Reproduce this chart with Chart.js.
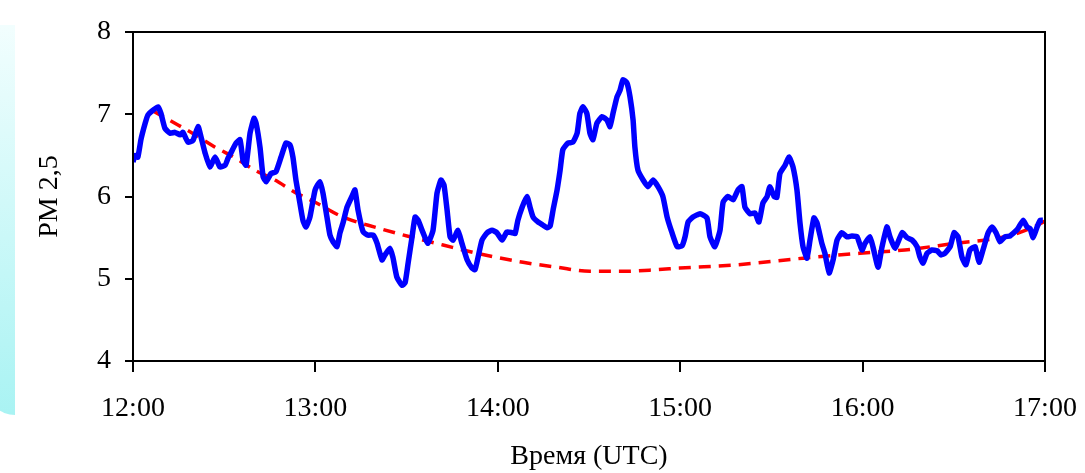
<!DOCTYPE html>
<html>
<head>
<meta charset="utf-8">
<script src="https://cdn.jsdelivr.net/npm/chart.js@4"></script>
<style>
  html, body { margin: 0; padding: 0; background: #fff; }
  #wrap { position: relative; width: 1085px; height: 473px; overflow: hidden; }
  #deco { position: absolute; left: -40px; top: 25px; width: 55px; height: 390px;
          background: linear-gradient(#f2fefe, #a9f3f3);
          border-bottom-left-radius: 60px 120px; z-index: 0; }
  #chart { position: absolute; left: 0; top: 0; z-index: 1; }
</style>
</head>
<body>
<div id="wrap">
  <div id="deco"></div>
  <canvas id="chart" width="1085" height="473"></canvas>
</div>
<script>
// minutes after 12:00 UTC
const pmTimes = [0, 0.7, 1.6, 2.6, 4.0, 4.9, 6.6, 8.2, 9.2, 10.5, 12.2, 13.8, 15.5, 16.4, 18.1, 19.7, 21.4, 22.4, 23.7, 25.3, 27.0, 28.6, 30.3, 31.3, 32.2, 33.9, 35.2, 36.2, 37.2, 38.5, 39.8, 40.5, 41.8, 42.8, 43.8, 45.4, 47.0, 48.7, 50.3, 51.6, 52.6, 53.6, 54.9, 55.9, 56.9,
  58.2, 59.9, 61.5, 62.5, 63.8, 64.8, 65.8, 67.1, 68.1, 69.1, 70.4, 72.0, 73.0, 74.0, 75.7, 77.3, 79.0, 80.3, 81.9, 82.9, 84.5, 85.5, 86.8, 88.5, 89.5, 90.5, 91.8, 92.8, 93.8, 95.4, 97.0, 98.7, 100.0, 101.3, 102.3, 103.3, 104.3, 105.3, 106.9, 108.2, 109.9, 111.5, 112.5, 113.5, 114.8, 116.5, 118.1, 119.7,
  121.4, 123.0, 124.7, 125.7, 126.6, 128.0, 129.6, 130.6, 131.6, 133.2, 134.9, 136.2, 137.2, 138.2, 139.5, 140.5, 141.4, 143.1, 144.7, 146.1, 147.0, 148.0, 149.3, 150.3, 151.3, 152.6, 154.3, 155.9, 156.9, 157.9, 159.2, 160.2, 161.2, 162.5, 163.5, 164.5, 165.1, 166.1, 167.8, 169.4, 171.1, 172.7, 174.3, 175.7, 177.3,
  179.0, 180.6, 181.6, 182.6, 184.2, 186.5, 188.8, 189.8, 191.4, 193.1, 194.1, 195.7, 197.4, 199.0, 200.3, 201.3, 203.0, 204.6, 205.9, 207.2, 208.6, 209.5, 210.9, 211.8, 212.8, 214.5, 215.8, 217.1, 218.4, 219.4, 220.4, 221.7, 222.7, 224.0, 225.0, 226.6, 227.6, 229.0, 230.3, 231.6, 233.2, 234.9, 236.5,
  238.2, 239.8, 240.8, 242.4, 243.4, 245.1, 246.4, 248.0, 249.0, 250.7, 253.0, 254.6, 256.3, 257.9, 258.9, 259.9, 261.2, 262.8, 264.5, 265.8, 267.1, 268.8, 270.1, 271.4, 272.7, 274.0, 275.3, 277.0, 278.3, 279.6, 281.3, 282.6, 283.9, 285.2, 286.8, 288.5, 290.1, 291.1, 292.8, 294.1, 295.1, 296.1, 297.4, 298.4, 299.3];
const pmValues = [6.42, 6.50, 6.48, 6.69, 6.89, 6.99, 7.05, 7.09, 7.01, 6.83, 6.77, 6.78, 6.75, 6.78, 6.66, 6.68, 6.85, 6.72, 6.53, 6.36, 6.48, 6.36, 6.38, 6.47, 6.53, 6.65, 6.69, 6.44, 6.38, 6.77, 6.95, 6.89, 6.59, 6.24, 6.18, 6.28, 6.30, 6.48, 6.65, 6.63, 6.48, 6.20, 5.92, 5.71, 5.63,
  5.75, 6.08, 6.18, 6.04, 5.75, 5.53, 5.45, 5.39, 5.56, 5.68, 5.87, 6.00, 6.08, 5.84, 5.57, 5.53, 5.53, 5.43, 5.23, 5.29, 5.37, 5.26, 5.02, 4.92, 4.95, 5.19, 5.51, 5.75, 5.71, 5.56, 5.43, 5.59, 6.04, 6.20, 6.14, 5.84, 5.51, 5.47, 5.59, 5.43, 5.23, 5.13, 5.11, 5.26, 5.47, 5.56, 5.59, 5.56,
  5.47, 5.57, 5.56, 5.55, 5.71, 5.87, 6.00, 5.87, 5.75, 5.69, 5.65, 5.62, 5.64, 5.84, 6.08, 6.32, 6.57, 6.65, 6.66, 6.77, 7.01, 7.09, 7.01, 6.77, 6.69, 6.89, 6.97, 6.93, 6.85, 7.01, 7.21, 7.29, 7.42, 7.38, 7.21, 6.93, 6.60, 6.32, 6.20, 6.12, 6.20, 6.12, 6.00, 5.75, 5.56,
  5.39, 5.40, 5.51, 5.69, 5.75, 5.79, 5.74, 5.51, 5.39, 5.59, 5.93, 6.00, 5.96, 6.08, 6.12, 5.87, 5.79, 5.80, 5.69, 5.92, 6.00, 6.12, 6.00, 5.99, 6.28, 6.38, 6.48, 6.36, 6.08, 5.68, 5.39, 5.25, 5.47, 5.74, 5.68, 5.43, 5.31, 5.07, 5.23, 5.47, 5.56, 5.51, 5.52,
  5.51, 5.35, 5.43, 5.51, 5.39, 5.14, 5.39, 5.63, 5.51, 5.37, 5.56, 5.50, 5.47, 5.39, 5.26, 5.19, 5.31, 5.35, 5.34, 5.29, 5.31, 5.39, 5.56, 5.51, 5.26, 5.17, 5.35, 5.39, 5.20, 5.35, 5.56, 5.63, 5.56, 5.45, 5.51, 5.52, 5.57, 5.61, 5.71, 5.63, 5.61, 5.50, 5.63, 5.71, 5.71];

// smooth trend (red dashed)
const trendTimes = [6.6, 14.8, 20.4, 27.0, 33.6, 40.1, 46.7, 53.3, 59.9, 69.1, 80.3, 91.1, 102.0, 113.2, 128.3, 139.5, 150.3, 161.2, 172.4, 179.9, 198.7, 220.4, 239.1, 253.9, 270.4, 286.8, 295.7, 300];
const trendValues = [7.04, 6.87, 6.75, 6.60, 6.47, 6.32, 6.20, 6.05, 5.93, 5.75, 5.62, 5.51, 5.41, 5.31, 5.20, 5.14, 5.09, 5.09, 5.11, 5.13, 5.17, 5.25, 5.31, 5.35, 5.43, 5.51, 5.62, 5.70];

const xTicks = ['12:00', '13:00', '14:00', '15:00', '16:00', '17:00'];
const yTicks = [4, 5, 6, 7, 8];

const font = { family: 'Liberation Serif', size: 28 };

const frame = {
  id: 'frame',
  afterDraw(chart) {
    const { ctx, chartArea: a } = chart;
    ctx.save();
    ctx.strokeStyle = '#000';
    ctx.lineWidth = 2;
    ctx.strokeRect(a.left, a.top, a.right - a.left, a.bottom - a.top);
    ctx.restore();
  }
};

new Chart(document.getElementById('chart'), {
  type: 'line',
  data: {
    datasets: [
      {
        label: 'PM 2,5',
        data: pmTimes.map((t, i) => ({ x: t, y: pmValues[i] })),
        borderColor: '#0000ff',
        borderWidth: 5.5,
        pointRadius: 0,
        tension: 0.15
      },
      {
        label: 'trend',
        data: trendTimes.map((t, i) => ({ x: t, y: trendValues[i] })),
        borderColor: '#ff0000',
        borderWidth: 3.5,
        borderDash: [12, 8],
        pointRadius: 0,
        cubicInterpolationMode: 'monotone'
      }
    ]
  },
  options: {
    responsive: false,
    animation: false,
    layout: { autoPadding: false, padding: { top: 32, right: 40, left: 0, bottom: 0 } },
    plugins: { legend: { display: false }, tooltip: { enabled: false } },
    scales: {
      x: {
        type: 'linear',
        min: 0, max: 300,
        afterBuildTicks: s => { s.ticks = xTicks.map((_, i) => ({ value: i * 60 })); },
        afterFit: s => { s.height = 112; s.paddingLeft = 0; s.paddingRight = 0; },
        grid: { drawOnChartArea: false, tickLength: 11, color: '#000', lineWidth: 2 },
        border: { color: '#000', width: 2 },
        ticks: { font, color: '#000', padding: 20, maxRotation: 0,
                 callback: (v, i) => xTicks[i] },
        title: { display: true, text: 'Время (UTC)', font, color: '#000', padding: { bottom: 0 } }
      },
      y: {
        min: 4, max: 8,
        afterBuildTicks: s => { s.ticks = yTicks.map(v => ({ value: v })); },
        afterFit: s => { s.width = 133; s.paddingTop = 0; s.paddingBottom = 0; },
        grid: { drawOnChartArea: false, tickLength: 8, color: '#000', lineWidth: 2 },
        border: { color: '#000', width: 2 },
        ticks: { font, color: '#000', padding: 14 },
        title: { display: true, text: 'PM 2,5', font, color: '#000', padding: { top: 33 } }
      }
    }
  },
  plugins: [frame]
});
</script>
</body>
</html>
